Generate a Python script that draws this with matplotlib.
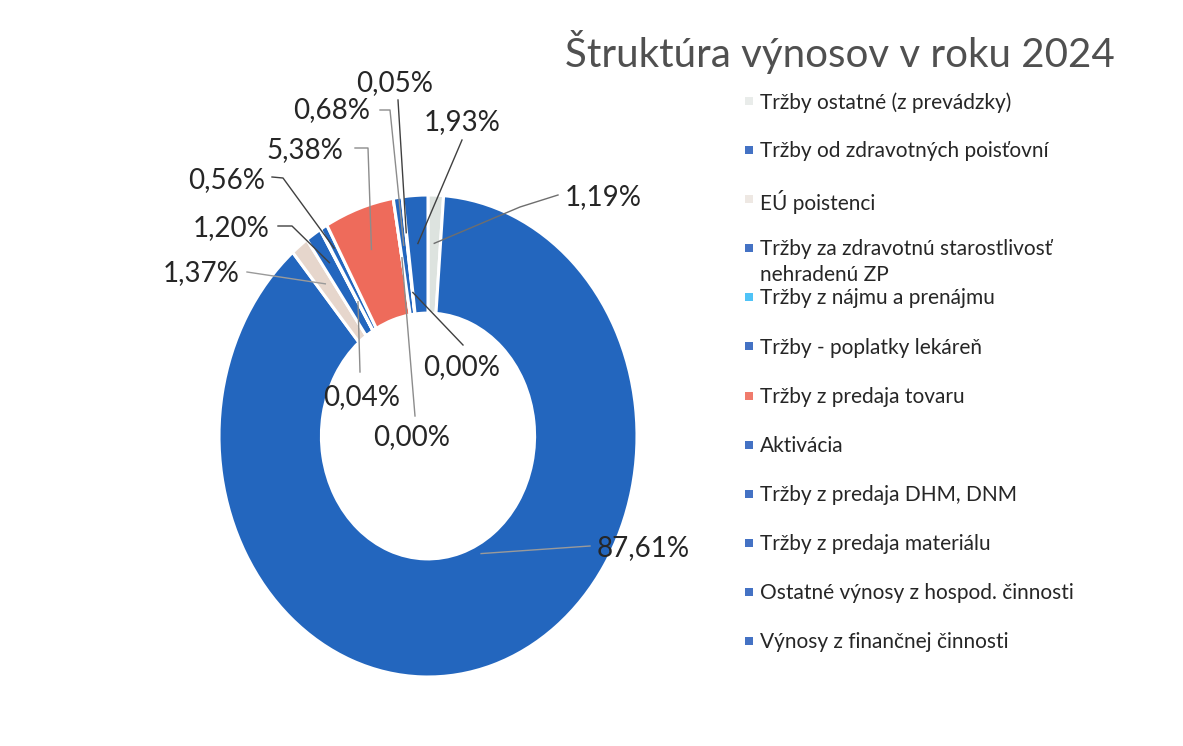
import numpy as np
import matplotlib
matplotlib.use('Agg')
import matplotlib.pyplot as plt
from matplotlib.patches import Rectangle

plt.rcParams['font.family'] = ['Lato', 'DejaVu Sans']

# data
categories = [
    'Tržby ostatné (z prevádzky)',
    'Tržby od zdravotných poisťovní',
    'EÚ poistenci',
    'Tržby za zdravotnú starostlivosť\nnehradenú ZP',
    'Tržby z nájmu a prenájmu',
    'Tržby - poplatky lekáreň',
    'Tržby z predaja tovaru',
    'Aktivácia',
    'Tržby z predaja DHM, DNM',
    'Tržby z predaja materiálu',
    'Ostatné výnosy z hospod. činnosti',
    'Výnosy z finančnej činnosti',
]
shares = [1.19, 87.61, 1.37, 1.20, 0.04, 0.56, 5.38, 0.00, 0.68, 0.05, 0.00, 1.93]
value_labels = ['1,19%', '87,61%', '1,37%', '1,20%', '0,04%', '0,56%',
                '5,38%', '0,00%', '0,68%', '0,05%', '0,00%', '1,93%']

BLUE = '#2366BE'
colors = ['#DDE3DF', BLUE, '#E6D6CC', BLUE, '#4FC3F7', BLUE,
          '#EE6B5B', BLUE, BLUE, BLUE, BLUE, BLUE]
legend_colors = ['#E9ECEA', '#4472C4', '#EEE8E3', '#4472C4', '#4FC3F7', '#4472C4',
                 '#F07B6C', '#4472C4', '#4472C4', '#4472C4', '#4472C4', '#4472C4']

W, H = 1183, 746
fig = plt.figure(figsize=(W / 100, H / 100), dpi=100)

# donut centre / radii in pixels (the scan is slightly stretched vertically)
CX, CY, RX, RY = 428, 436, 209, 241
ax = fig.add_axes([(CX - RX) / W, 1 - (CY + RY) / H, 2 * RX / W, 2 * RY / H])

wedges, _ = ax.pie(shares, colors=colors, startangle=90, counterclock=False,
                   radius=1.0, wedgeprops=dict(width=0.49, edgecolor='white', linewidth=2.2))
ax.set_xlim(-1, 1)
ax.set_ylim(-1, 1)
ax.set_aspect('auto')
ax.axis('off')


def to_data(px, py):
    return (px - CX) / RX, (CY - py) / RY


# label layout: text position (px), alignment, elbow points (px),
# anchor radius, anchor position along the wedge (0..1), line colour
layout = [
    ((565, 197), 'left', [(558, 195), (520, 207)], 0.80, 0.5, '#6E6E6E'),
    ((597, 548), 'left', [(590, 546)], 0.55, 0.53, '#9A9A9A'),
    ((240, 273), 'right', [(247, 272)], 0.80, 0.5, '#9A9A9A'),
    ((270, 228), 'right', [(278, 226), (292, 226)], 0.86, 0.5, '#404040'),
    ((362, 397), 'center', [(360, 372)], 0.65, 0.5, '#8C8C8C'),
    ((265, 180), 'right', [(272, 177), (283, 178)], 0.90, 0.5, '#404040'),
    ((343, 150), 'right', [(355, 148), (368, 148)], 0.82, 0.5, '#8C8C8C'),
    ((412, 437), 'center', [(415, 416)], 0.75, 0.5, '#8C8C8C'),
    ((370, 110), 'right', [(380, 110), (390, 110)], 0.80, 0.5, '#8C8C8C'),
    ((395, 83), 'center', [(398, 100)], 0.85, 0.5, '#404040'),
    ((462, 367), 'center', [(463, 345)], 0.60, 0.5, '#404040'),
    ((462, 122), 'center', [(462, 140)], 0.80, 0.5, '#404040'),
]

for w, txt, (tpos, ha, pts, r, frac, lc) in zip(wedges, value_labels, layout):
    ang = np.deg2rad(w.theta1 + frac * (w.theta2 - w.theta1))
    ax_pt = (r * np.cos(ang), r * np.sin(ang))
    path = [to_data(*p) for p in pts] + [ax_pt]
    xs, ys = zip(*path)
    ax.plot(xs, ys, color=lc, lw=1.0, clip_on=False, zorder=3)
    tx, ty = to_data(*tpos)
    ax.text(tx, ty, txt, ha=ha, va='center', fontsize=20, color='#262626',
            clip_on=False, zorder=4)

# title
fig.text(1115 / W, 1 - 52 / H, 'Štruktúra výnosov v roku 2024', ha='right', va='center',
         fontsize=29, color='#505050')

# legend drawn by hand to keep Excel-like fixed spacing
for i, (name, c) in enumerate(zip(categories, legend_colors)):
    y = 101 + 49.1 * i
    fig.patches.append(Rectangle((745 / W, 1 - (y + 4) / H), 8 / W, 8 / H,
                                 transform=fig.transFigure, facecolor=c, edgecolor='none'))
    fig.text(760 / W, 1 - (y - 9) / H, name, ha='left', va='top', fontsize=15,
             color='#262626', linespacing=1.35)

fig.savefig('out.png', dpi=100, facecolor='white')
